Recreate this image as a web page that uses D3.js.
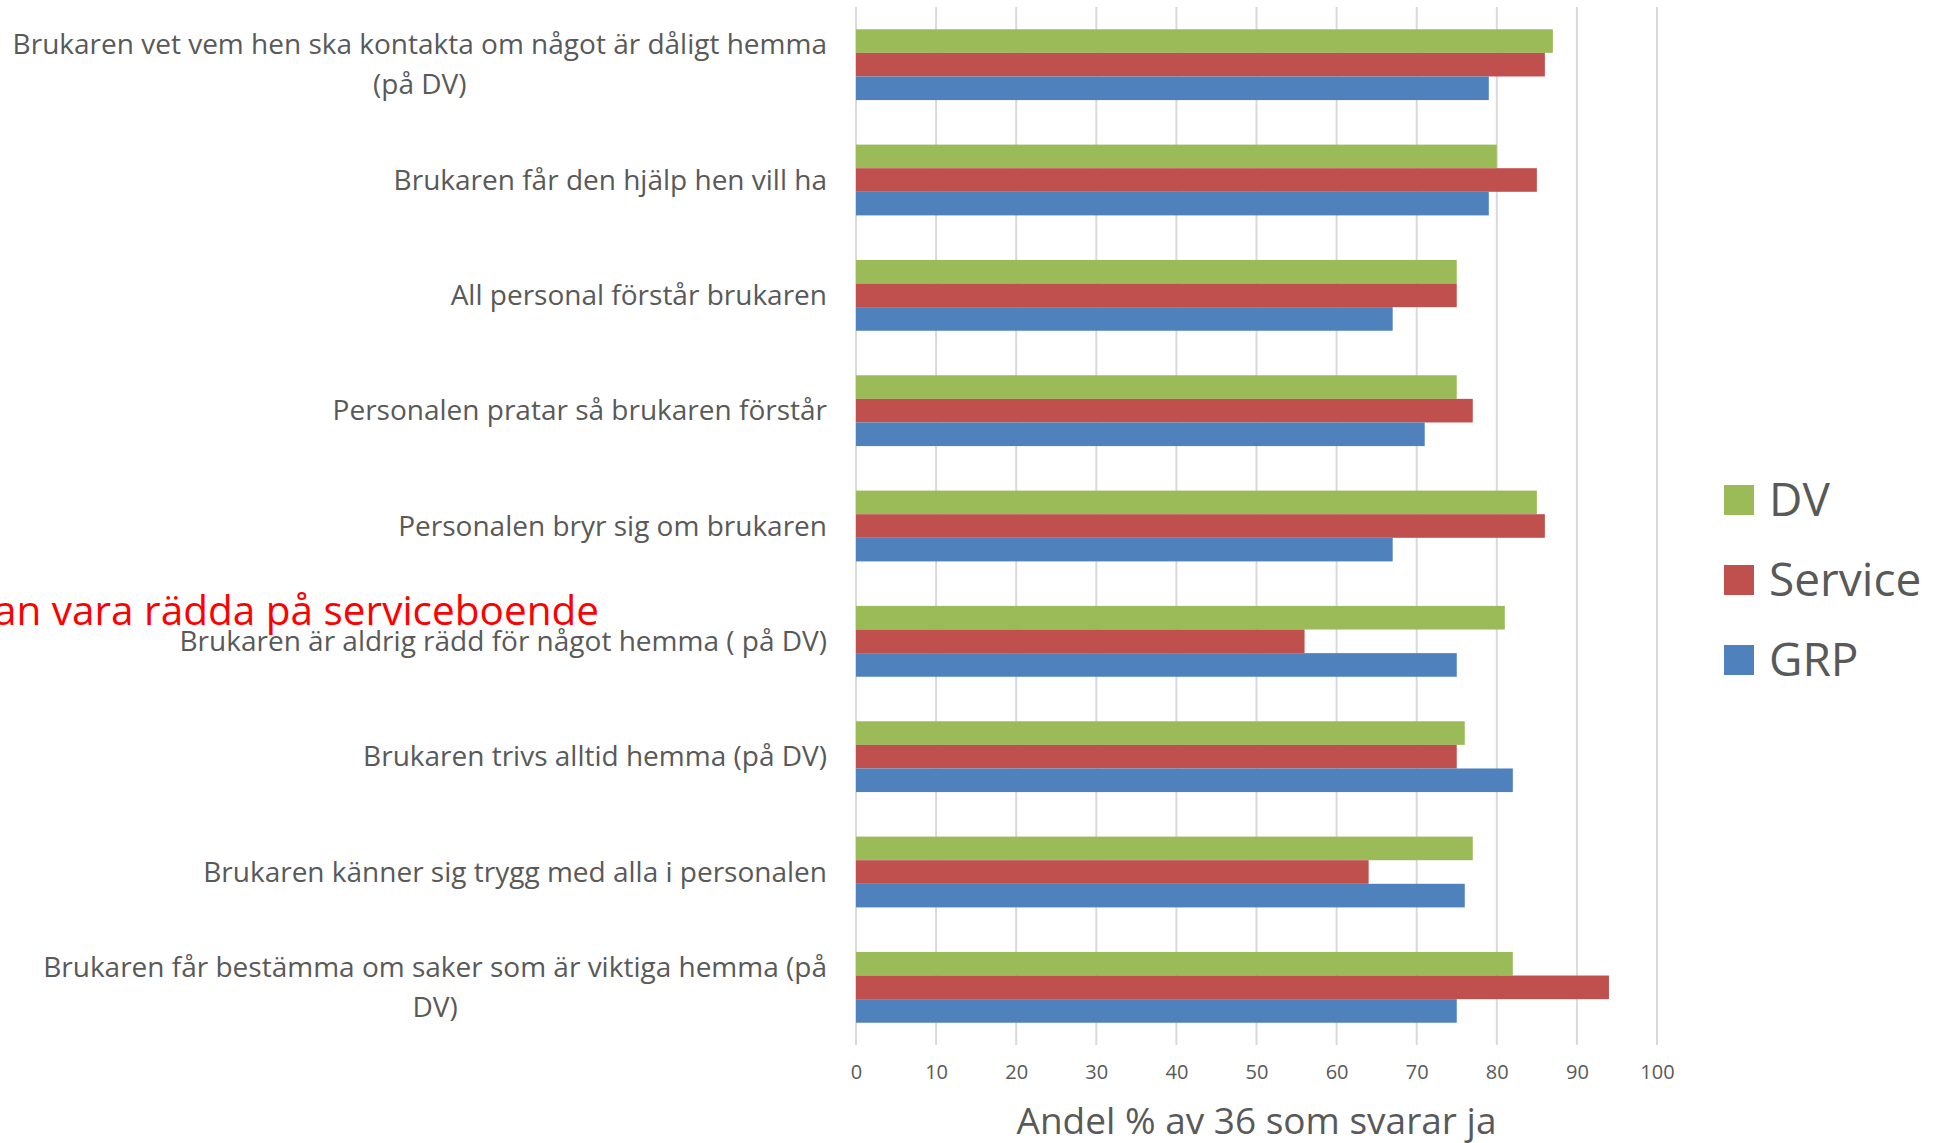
<!DOCTYPE html>
<html>
<head>
<meta charset="utf-8">
<script src="https://cdn.jsdelivr.net/npm/d3@7"></script>
<style>
  body { margin: 0; background: #fff; }
  svg text { font-family: "Open Sans", sans-serif; }
</style>
</head>
<body>
<div id="chart"></div>
<script>
let width = 1939;
let height = 1143;

// questions, top to bottom (wrapped lines split with |)
let categories = [
	"Brukaren vet vem hen ska kontakta om något är dåligt hemma|(på DV)",
	"Brukaren får den hjälp hen vill ha",
	"All personal förstår brukaren",
	"Personalen pratar så brukaren förstår",
	"Personalen bryr sig om brukaren",
	"Brukaren är aldrig rädd för något hemma ( på DV)",
	"Brukaren trivs alltid hemma (på DV)",
	"Brukaren känner sig trygg med alla i personalen",
	"Brukaren får bestämma om saker som är viktiga hemma (på|DV)"
];
let dvValues      = [87, 80, 75, 75, 85, 81, 76, 77, 82];
let serviceValues = [86, 85, 75, 77, 86, 56, 75, 64, 94];
let grpValues     = [79, 79, 67, 71, 67, 75, 82, 76, 75];
let seriesNames   = ["DV", "Service", "GRP"];
let seriesColors  = ["#9BBB59", "#C0504D", "#4F81BD"];
let xTicks        = [0, 10, 20, 30, 40, 50, 60, 70, 80, 90, 100];
let axisTitle     = "Andel % av 36 som svarar ja";
let overlayText   = "Brukarna kan vara rädda på serviceboende";

let margin = {left: 856, right: 282, top: 7, bottom: 98};

let svg = d3.select("#chart").append("svg")
	.attr("width", width)
	.attr("height", height);

let x = d3.scaleLinear()
	.domain([0, 100])
	.range([margin.left, width - margin.right]);

let y = d3.scaleBand()
	.domain(d3.range(categories.length))
	.range([margin.top, height - margin.bottom])
	.paddingInner(0.386)
	.paddingOuter(0.193);

let inner = d3.scaleBand()
	.domain(d3.range(3))
	.range([0, y.bandwidth()]);

// gridlines
svg.append("g")
	.selectAll("line")
	.data(xTicks)
	.enter().append("line")
	.attr("x1", d => x(d)).attr("x2", d => x(d))
	.attr("y1", margin.top).attr("y2", height - margin.bottom)
	.attr("stroke", "#d9d9d9")
	.attr("stroke-width", 2);

// tick labels
let xAxis = svg.append("g")
	.attr("transform", "translate(0," + (height - margin.bottom) + ")")
	.call(d3.axisBottom(x).tickValues(xTicks).tickSize(0).tickPadding(20));
xAxis.select(".domain").remove();
xAxis.selectAll("text")
	.attr("fill", "#595959")
	.style("font-size", "20px");

// bars
let seriesData = [dvValues, serviceValues, grpValues];
seriesData.forEach(function(vals, s){
	svg.append("g")
		.selectAll("rect")
		.data(vals)
		.enter().append("rect")
		.attr("x", x(0))
		.attr("y", (d, i) => y(i) + inner(s))
		.attr("width", d => x(d) - x(0))
		.attr("height", inner.bandwidth())
		.attr("fill", seriesColors[s]);
});

// category labels
let labelRight = 827;
categories.forEach(function(c, i){
	let lines = c.split("|");
	let cy = y(i) + y.bandwidth() / 2;
	let lh = 40;
	let g = svg.append("g");
	let texts = lines.map(function(l, k){
		return g.append("text")
			.attr("y", cy + (k - (lines.length - 1) / 2) * lh)
			.attr("dy", "0.35em")
			.attr("fill", "#595959")
			.style("font-size", "28px")
			.text(l);
	});
	if (lines.length == 1) {
		texts[0].attr("x", labelRight).attr("text-anchor", "end");
	} else {
		let w = d3.max(texts, t => t.node().getComputedTextLength());
		texts.forEach(t => t.attr("x", labelRight - w / 2).attr("text-anchor", "middle"));
	}
});

// axis title
svg.append("text")
	.attr("x", (x(0) + x(100)) / 2)
	.attr("y", 1134)
	.attr("text-anchor", "middle")
	.attr("fill", "#595959")
	.style("font-size", "37px")
	.text(axisTitle);

// legend
let legend = svg.append("g");
seriesNames.forEach(function(n, i){
	let ly = 500 + i * 80;
	legend.append("rect")
		.attr("x", 1724).attr("y", ly - 15)
		.attr("width", 30).attr("height", 30)
		.attr("fill", seriesColors[i]);
	legend.append("text")
		.attr("x", 1769).attr("y", ly)
		.attr("dy", "0.35em")
		.attr("fill", "#595959")
		.style("font-size", "46px")
		.text(n);
});

// stray red text box, partly outside the left edge
svg.append("text")
	.attr("x", 599)
	.attr("y", 625)
	.attr("text-anchor", "end")
	.attr("fill", "#FF0000")
	.style("font-size", "40.5px")
	.text(overlayText);
</script>
</body>
</html>
